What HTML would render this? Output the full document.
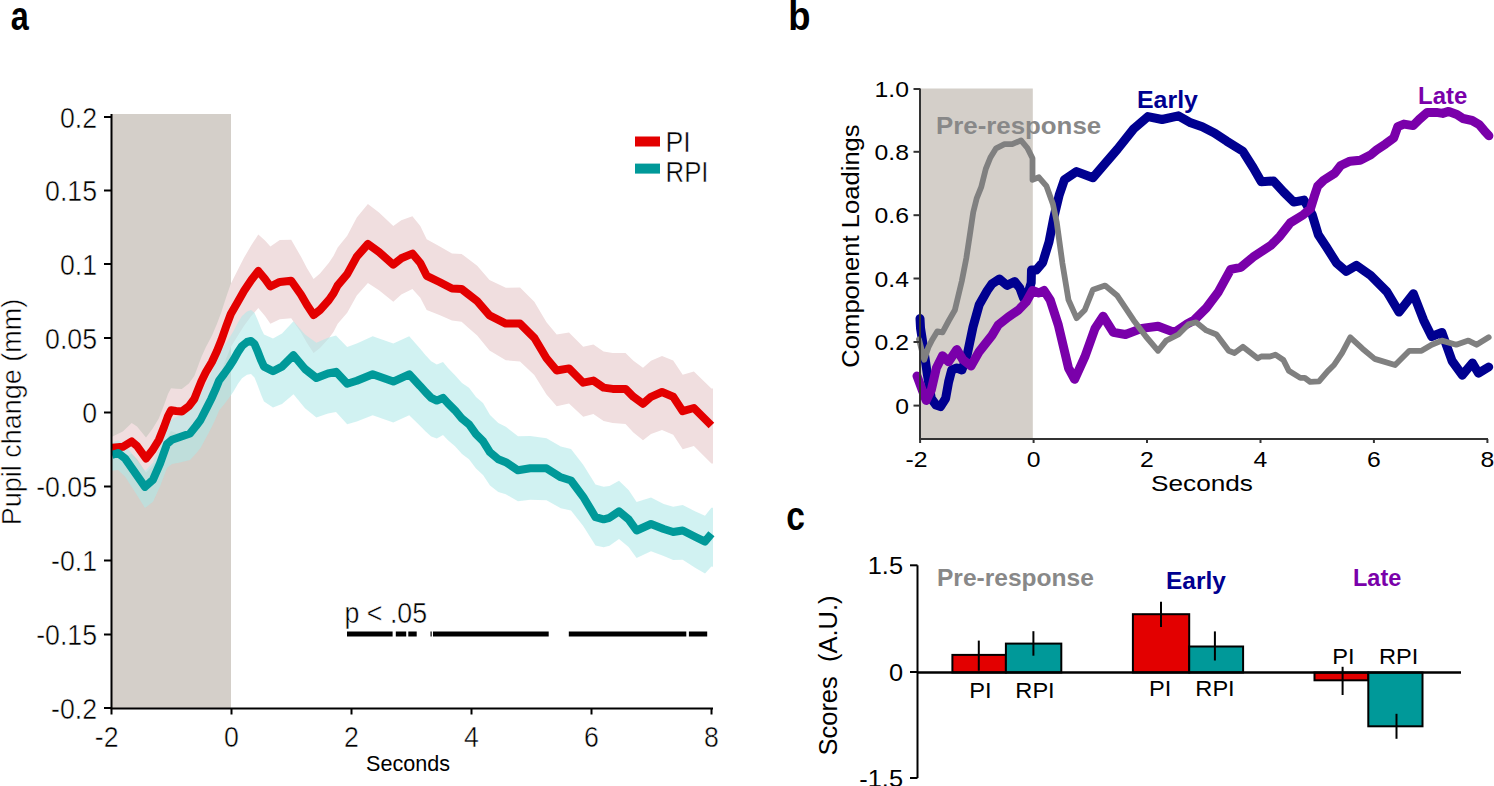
<!DOCTYPE html>
<html><head><meta charset="utf-8"><title>Figure</title>
<style>html,body{margin:0;padding:0;background:#fff;}body{width:1494px;height:786px;overflow:hidden;}svg{display:block;}text{font-family:"Liberation Sans",sans-serif;}</style></head><body>
<svg width="1494" height="786" viewBox="0 0 1494 786">
<rect x="0" y="0" width="1494" height="786" fill="#fff"/>
<text transform="translate(10.8,30) scale(0.81,1)" font-size="40" font-weight="bold" text-anchor="start" fill="#000" xml:space="preserve">a</text>
<text transform="translate(788.3,30) scale(0.9,1)" font-size="40.5" font-weight="bold" text-anchor="start" fill="#000" xml:space="preserve">b</text>
<text transform="translate(786.2,529.5) scale(0.84,1)" font-size="40" font-weight="bold" text-anchor="start" fill="#000" xml:space="preserve">c</text>
<rect x="111" y="114" width="120" height="594" fill="#d4cfc9"/>
<polygon points="111.5,436.7 112.0,436.7 122.8,431.6 131.7,423.1 137.0,426.6 146.0,437.5 152.4,429.0 158.8,418.5 164.0,405.3 168.0,394.1 171.0,388.3 176.2,388.8 181.8,389.1 188.9,383.4 194.3,376.1 197.8,366.7 201.4,357.1 205.8,347.3 211.9,335.8 217.0,323.8 221.4,311.9 226.3,296.8 230.8,283.8 237.0,271.6 244.1,257.6 251.3,245.3 258.3,234.6 265.0,240.5 270.4,246.4 279.8,239.9 291.2,239.8 300.9,256.6 307.0,268.2 313.6,278.9 320.0,273.4 328.9,262.8 333.6,255.8 337.7,247.5 347.2,235.8 356.8,217.6 367.9,204.1 379.0,212.5 393.3,226.1 401.3,220.2 412.4,216.2 420.3,226.1 426.7,239.3 439.4,246.2 452.0,253.5 461.6,253.9 468.0,258.8 477.2,265.8 489.5,279.9 505.8,287.8 520.0,287.6 534.3,301.8 546.5,322.2 556.7,334.5 569.0,332.4 583.2,346.7 593.4,344.6 603.6,351.6 612.7,352.9 625.5,352.9 633.4,360.8 643.0,367.8 651.0,360.8 662.0,356.0 673.2,360.6 682.7,374.8 693.9,371.4 703.4,380.7 711.4,388.5 713.0,388.5 713.0,463.5 711.4,463.5 703.4,455.5 693.9,446.0 682.7,449.2 673.2,434.8 662.0,430.0 651.0,433.9 643.0,440.3 633.4,432.5 625.5,424.0 612.7,422.9 603.6,420.9 593.4,414.0 583.2,416.8 569.0,403.4 556.7,406.3 546.5,394.6 534.3,375.0 520.0,361.4 505.8,360.2 489.5,350.6 477.2,335.4 468.0,327.4 461.6,321.8 452.0,320.5 439.4,315.1 426.7,310.0 420.3,297.7 412.4,289.0 401.3,294.6 393.3,301.7 379.0,290.2 367.9,283.0 356.8,295.5 347.2,312.8 337.7,323.7 333.6,331.7 328.9,338.3 320.0,348.1 313.6,353.0 307.0,342.9 300.9,332.3 291.2,318.3 279.8,319.3 270.4,323.7 265.0,316.1 258.3,308.0 251.3,316.1 244.1,325.7 237.0,337.0 230.8,346.9 226.3,358.2 221.4,371.4 217.0,381.7 211.9,391.9 205.8,401.2 201.4,409.4 197.8,417.5 194.3,425.5 188.9,431.3 181.8,434.9 176.2,432.9 171.0,430.9 168.0,435.9 164.0,445.8 158.8,457.5 152.4,466.2 146.0,472.8 137.0,459.0 131.7,453.8 122.8,458.1 112.0,457.7 111.5,457.7" fill="#f0dedf"/>
<polygon points="111.5,442.8 112.0,442.8 118.0,440.3 125.0,444.8 135.0,457.8 145.0,470.9 153.0,462.4 160.0,445.2 167.0,424.4 172.0,419.3 180.0,415.3 190.0,410.0 196.0,401.7 200.5,394.9 206.7,382.1 211.2,372.7 215.6,362.3 219.2,353.0 224.0,346.1 229.0,338.5 233.5,331.0 238.0,322.4 242.0,316.0 247.0,311.4 251.0,309.9 254.5,312.7 257.8,320.2 261.3,328.9 264.0,334.6 273.0,338.6 282.0,333.4 293.5,321.2 305.0,334.4 316.4,342.8 328.0,337.7 336.0,335.6 347.2,347.0 356.8,343.4 372.7,336.3 393.3,343.6 409.2,336.3 420.0,348.6 425.6,355.2 431.2,361.2 436.8,364.4 443.0,362.0 448.0,367.9 455.0,375.3 462.0,382.9 469.0,387.8 476.0,396.9 483.0,403.1 490.0,415.1 498.3,423.0 505.8,426.8 518.0,436.3 530.2,436.0 546.5,438.3 560.8,446.5 571.0,449.1 583.2,464.7 595.5,484.5 603.6,486.7 609.5,486.0 619.0,480.8 628.6,490.0 636.6,502.1 651.0,497.4 663.7,504.0 673.2,506.8 682.7,505.1 695.5,511.4 705.0,515.8 711.4,507.7 713.0,507.7 713.0,566.7 711.4,566.5 705.0,573.6 695.5,567.9 682.7,559.8 673.2,560.1 663.7,556.0 651.0,551.2 636.6,557.9 628.6,547.0 619.0,539.1 609.5,545.7 603.6,547.2 595.5,545.5 583.2,526.0 571.0,510.6 560.8,508.2 546.5,500.3 530.2,499.7 518.0,501.3 505.8,494.2 498.3,491.9 490.0,485.5 483.0,474.9 476.0,468.4 469.0,459.2 462.0,454.1 455.0,446.3 448.0,440.2 443.0,435.1 436.8,438.6 431.2,436.4 425.6,431.5 420.0,425.8 409.2,415.3 393.3,422.6 372.7,415.3 356.8,421.4 347.2,424.2 336.0,411.9 328.0,413.4 316.4,417.6 305.0,408.3 293.5,394.2 282.0,404.1 273.0,407.4 264.0,401.6 261.3,395.3 257.8,385.8 254.5,377.6 251.0,374.1 247.0,374.7 242.0,378.2 238.0,383.8 233.5,391.4 229.0,397.9 224.0,404.4 219.2,410.2 215.6,418.8 211.2,428.1 206.7,436.6 200.5,448.1 196.0,453.5 190.0,460.1 180.0,462.5 172.0,464.1 167.0,467.8 160.0,486.6 153.0,501.7 145.0,507.9 135.0,492.1 125.0,476.4 118.0,469.9 112.0,470.8 111.5,470.8" fill="rgb(175,232,232)" fill-opacity="0.58"/>
<polyline points="112.0,447.7 122.8,446.8 131.7,441.4 137.0,446.0 146.0,458.5 152.4,450.3 158.8,440.0 164.0,427.0 168.0,416.0 171.0,410.3 176.2,411.0 181.8,411.5 188.9,406.1 194.3,399.0 197.8,390.1 201.4,381.2 205.8,372.3 211.9,362.0 217.0,351.0 221.4,340.0 226.3,326.0 230.8,314.0 237.0,303.2 244.1,290.7 251.3,280.0 258.3,271.0 265.0,279.0 270.4,286.5 279.8,281.9 291.2,280.7 300.9,294.5 307.0,305.0 313.6,315.0 320.0,310.0 328.9,300.0 333.6,293.3 337.7,285.3 347.2,274.2 356.8,256.7 367.9,244.0 379.0,252.0 393.3,264.7 401.3,258.3 412.4,253.6 420.3,263.0 426.7,275.8 439.4,282.0 452.0,288.5 461.6,289.0 468.0,294.0 477.2,301.2 489.5,315.4 505.8,323.6 520.0,323.6 534.3,337.8 546.5,358.2 556.7,370.5 569.0,368.4 583.2,382.7 593.4,380.6 603.6,387.6 612.7,388.9 625.5,388.9 633.4,396.8 643.0,403.8 651.0,396.8 662.0,392.0 673.2,396.8 682.7,411.2 693.9,408.0 703.4,417.5 711.4,425.5" fill="none" stroke="#e30000" stroke-width="8" stroke-linejoin="round" stroke-linecap="butt"/>
<polyline points="112.0,454.8 118.0,453.0 125.0,458.4 135.0,472.6 145.0,486.9 153.0,479.7 160.0,463.7 167.0,444.0 172.0,439.7 180.0,437.0 190.0,433.4 196.0,426.0 200.5,420.0 206.7,407.9 211.2,399.0 215.6,389.2 219.2,380.3 224.0,374.0 229.0,367.0 233.5,360.0 238.0,352.0 242.0,346.0 247.0,342.0 251.0,341.0 254.5,344.0 257.8,351.7 261.3,360.7 264.0,366.6 273.0,371.2 282.0,366.6 293.5,355.2 305.0,369.0 316.4,378.0 328.0,373.5 336.0,371.8 347.2,383.8 356.8,380.7 372.7,374.3 393.3,381.6 409.2,374.3 420.0,385.9 425.6,392.2 431.2,397.8 436.8,400.6 443.0,397.8 448.0,403.4 455.0,410.3 462.0,418.7 469.0,424.3 476.0,434.1 483.0,441.1 490.0,452.3 498.3,459.3 505.8,462.2 518.0,470.3 530.2,468.3 546.5,468.3 560.8,477.3 571.0,480.5 583.2,496.8 595.5,517.2 603.6,519.3 609.5,517.8 619.0,511.4 628.6,519.4 636.6,530.5 651.0,524.0 663.7,529.0 673.2,532.0 682.7,530.5 695.5,537.0 705.0,541.6 711.4,533.7" fill="none" stroke="#009999" stroke-width="8" stroke-linejoin="round" stroke-linecap="butt"/>
<path d="M111.5 114 V708.5 H713" fill="none" stroke="#000" stroke-width="2"/>
<line x1="104" y1="117" x2="111" y2="117" stroke="#000" stroke-width="2"/>
<text transform="translate(97,127.8) scale(0.89,1)" font-size="30" text-anchor="end" fill="#000" stroke="#fff" stroke-width="0.5" xml:space="preserve">0.2</text>
<line x1="104" y1="190.5" x2="111" y2="190.5" stroke="#000" stroke-width="2"/>
<text transform="translate(97,201.3) scale(0.89,1)" font-size="30" text-anchor="end" fill="#000" stroke="#fff" stroke-width="0.5" xml:space="preserve">0.15</text>
<line x1="104" y1="264" x2="111" y2="264" stroke="#000" stroke-width="2"/>
<text transform="translate(97,274.8) scale(0.89,1)" font-size="30" text-anchor="end" fill="#000" stroke="#fff" stroke-width="0.5" xml:space="preserve">0.1</text>
<line x1="104" y1="338" x2="111" y2="338" stroke="#000" stroke-width="2"/>
<text transform="translate(97,348.8) scale(0.89,1)" font-size="30" text-anchor="end" fill="#000" stroke="#fff" stroke-width="0.5" xml:space="preserve">0.05</text>
<line x1="104" y1="412.5" x2="111" y2="412.5" stroke="#000" stroke-width="2"/>
<text transform="translate(97,423.3) scale(0.89,1)" font-size="30" text-anchor="end" fill="#000" stroke="#fff" stroke-width="0.5" xml:space="preserve">0</text>
<line x1="104" y1="486.5" x2="111" y2="486.5" stroke="#000" stroke-width="2"/>
<text transform="translate(97,497.3) scale(0.89,1)" font-size="30" text-anchor="end" fill="#000" stroke="#fff" stroke-width="0.5" xml:space="preserve">-0.05</text>
<line x1="104" y1="560.5" x2="111" y2="560.5" stroke="#000" stroke-width="2"/>
<text transform="translate(97,571.3) scale(0.89,1)" font-size="30" text-anchor="end" fill="#000" stroke="#fff" stroke-width="0.5" xml:space="preserve">-0.1</text>
<line x1="104" y1="634.5" x2="111" y2="634.5" stroke="#000" stroke-width="2"/>
<text transform="translate(97,645.3) scale(0.89,1)" font-size="30" text-anchor="end" fill="#000" stroke="#fff" stroke-width="0.5" xml:space="preserve">-0.15</text>
<line x1="104" y1="708" x2="111" y2="708" stroke="#000" stroke-width="2"/>
<text transform="translate(97,718.8) scale(0.89,1)" font-size="30" text-anchor="end" fill="#000" stroke="#fff" stroke-width="0.5" xml:space="preserve">-0.2</text>
<line x1="111.5" y1="708" x2="111.5" y2="714.5" stroke="#000" stroke-width="2"/>
<text transform="translate(118.5,746.5) scale(0.89,1)" font-size="30" text-anchor="end" fill="#000" stroke="#fff" stroke-width="0.5" xml:space="preserve">-2</text>
<line x1="231.5" y1="708" x2="231.5" y2="714.5" stroke="#000" stroke-width="2"/>
<text transform="translate(231.5,746.5) scale(0.89,1)" font-size="30" text-anchor="middle" fill="#000" stroke="#fff" stroke-width="0.5" xml:space="preserve">0</text>
<line x1="351.5" y1="708" x2="351.5" y2="714.5" stroke="#000" stroke-width="2"/>
<text transform="translate(351.5,746.5) scale(0.89,1)" font-size="30" text-anchor="middle" fill="#000" stroke="#fff" stroke-width="0.5" xml:space="preserve">2</text>
<line x1="471.5" y1="708" x2="471.5" y2="714.5" stroke="#000" stroke-width="2"/>
<text transform="translate(471.5,746.5) scale(0.89,1)" font-size="30" text-anchor="middle" fill="#000" stroke="#fff" stroke-width="0.5" xml:space="preserve">4</text>
<line x1="591.5" y1="708" x2="591.5" y2="714.5" stroke="#000" stroke-width="2"/>
<text transform="translate(591.5,746.5) scale(0.89,1)" font-size="30" text-anchor="middle" fill="#000" stroke="#fff" stroke-width="0.5" xml:space="preserve">6</text>
<line x1="711.5" y1="708" x2="711.5" y2="714.5" stroke="#000" stroke-width="2"/>
<text transform="translate(711.5,746.5) scale(0.89,1)" font-size="30" text-anchor="middle" fill="#000" stroke="#fff" stroke-width="0.5" xml:space="preserve">8</text>
<text transform="translate(366,771)" font-size="21.6" text-anchor="start" fill="#000" xml:space="preserve">Seconds</text>
<text transform="translate(20.5,412) rotate(-90)" font-size="27" text-anchor="middle" fill="#000" stroke="#fff" stroke-width="0.5" xml:space="preserve">Pupil change (mm)</text>
<rect x="635" y="136.5" width="25" height="10" fill="#e30000"/>
<rect x="635" y="163.6" width="25" height="10" fill="#009999"/>
<text transform="translate(665.5,151.8) scale(0.89,1)" font-size="30" text-anchor="start" fill="#000" stroke="#fff" stroke-width="0.5" xml:space="preserve">PI</text>
<text transform="translate(665.5,182) scale(0.86,1)" font-size="30" text-anchor="start" fill="#000" stroke="#fff" stroke-width="0.5" xml:space="preserve">RPI</text>
<text transform="translate(344.5,622.8) scale(0.893,1)" font-size="30" text-anchor="start" fill="#000" stroke="#fff" stroke-width="0.5" xml:space="preserve">p &lt; .05</text>
<rect x="347" y="631.5" width="45.6" height="5" fill="#000"/>
<rect x="395.8" y="631.5" width="10.4" height="5" fill="#000"/>
<rect x="408.3" y="631.5" width="8.4" height="5" fill="#000"/>
<rect x="433" y="631.5" width="115.7" height="5" fill="#000"/>
<rect x="568.8" y="631.5" width="117.5" height="5" fill="#000"/>
<rect x="688.9" y="631.5" width="18.3" height="5" fill="#000"/>
<rect x="430.5" y="631.5" width="1.2" height="5" fill="#000"/>
<rect x="920" y="88.5" width="112.8" height="350" fill="#d4cfc9"/>
<polyline points="920.0,318.5 920.5,328.0 923.2,345.5 927.3,374.0 931.3,398.5 936.0,405.0 940.5,406.6 945.6,398.5 948.6,382.0 951.7,370.0 956.8,368.0 961.9,370.0 967.0,355.7 973.0,327.0 979.2,304.8 987.3,290.5 991.8,284.1 999.4,279.0 1007.0,285.4 1014.7,281.6 1019.8,288.0 1023.6,298.1 1027.4,295.6 1031.2,282.8 1031.5,270.0 1036.3,270.0 1042.7,262.5 1049.0,242.0 1054.0,216.7 1059.2,195.0 1064.4,179.8 1076.6,171.6 1092.9,177.7 1105.1,163.5 1117.4,149.2 1133.6,128.9 1147.9,116.6 1162.1,119.5 1178.4,115.8 1190.7,122.8 1202.2,126.8 1214.4,132.9 1226.6,141.1 1242.9,151.3 1253.1,167.5 1261.3,181.8 1273.5,181.0 1283.6,192.0 1293.8,202.1 1304.0,200.1 1312.1,214.4 1318.3,234.7 1326.4,247.0 1336.6,263.2 1346.2,271.4 1356.4,265.3 1370.6,275.4 1386.9,291.7 1399.1,312.1 1413.4,293.8 1423.6,320.2 1431.7,336.5 1441.9,332.4 1452.1,361.0 1462.3,375.2 1472.4,363.0 1478.5,373.2 1488.7,367.0" fill="none" stroke="#000090" stroke-width="9" stroke-linejoin="round" stroke-linecap="round"/>
<polyline points="917.0,376.0 922.2,390.0 926.2,400.5 931.3,390.0 936.4,368.0 942.5,355.7 948.6,361.8 956.8,349.6 963.0,359.8 971.0,366.0 979.2,351.6 992.0,335.4 998.2,325.0 1008.3,317.0 1018.5,310.0 1026.2,302.0 1032.5,290.5 1038.9,293.0 1044.0,290.5 1050.2,300.0 1058.3,325.0 1068.5,368.0 1074.6,379.3 1084.8,356.9 1095.0,328.4 1103.1,316.2 1113.3,332.4 1125.5,334.5 1141.8,328.4 1158.1,326.3 1174.4,332.4 1186.6,324.3 1194.0,320.2 1206.3,308.0 1218.5,291.7 1230.7,269.3 1240.9,267.3 1253.1,257.1 1271.4,244.9 1280.0,236.1 1290.2,222.9 1303.4,214.7 1310.5,208.6 1314.6,195.4 1317.6,186.3 1323.7,180.2 1334.9,173.1 1340.7,165.5 1350.0,161.2 1360.2,160.2 1370.4,155.1 1376.5,150.0 1385.6,143.9 1393.8,137.8 1397.8,126.6 1403.9,124.1 1413.1,125.6 1419.2,119.5 1427.3,112.4 1436.5,112.4 1442.6,113.4 1448.7,111.4 1456.9,114.4 1463.0,118.5 1472.1,120.5 1479.2,124.6 1484.3,130.7 1488.9,135.8" fill="none" stroke="#7a00aa" stroke-width="9" stroke-linejoin="round" stroke-linecap="round"/>
<polyline points="919.0,339.4 924.2,359.8 928.3,347.5 932.4,339.4 937.4,331.3 942.5,332.3 948.6,321.0 954.9,310.0 961.8,281.1 966.3,258.2 969.8,235.3 973.2,212.4 976.6,198.7 981.2,187.2 985.8,168.9 990.4,157.5 996.1,148.3 1004.5,144.2 1012.2,144.2 1021.0,140.4 1027.4,148.0 1032.5,158.2 1032.5,179.8 1038.9,177.3 1046.5,186.2 1052.9,204.0 1056.7,222.0 1062.4,263.2 1068.5,299.9 1076.6,318.2 1084.8,310.0 1092.9,289.7 1105.1,285.6 1117.4,295.8 1133.6,320.2 1145.9,336.5 1158.1,350.8 1166.2,340.6 1178.4,334.5 1188.6,324.3 1196.1,322.3 1206.3,330.4 1216.5,334.5 1228.7,350.8 1234.5,353.0 1242.9,346.7 1257.6,358.3 1261.2,356.5 1270.0,356.5 1275.4,354.7 1283.4,360.0 1288.8,370.8 1300.3,377.9 1304.8,377.9 1310.1,381.9 1319.0,381.4 1328.0,370.8 1334.0,365.0 1342.1,352.8 1350.3,337.3 1362.5,348.7 1374.7,358.9 1395.1,365.0 1409.3,350.8 1421.5,350.8 1431.7,344.7 1441.9,340.6 1456.2,344.7 1468.4,340.6 1476.5,344.7 1488.7,337.3" fill="none" stroke="#808080" stroke-width="5.8" stroke-linejoin="round" stroke-linecap="round"/>
<path d="M920 88.5 V439 H1488" fill="none" stroke="#333" stroke-width="2"/>
<line x1="913.5" y1="89" x2="920" y2="89" stroke="#333" stroke-width="2"/>
<text transform="translate(909,97.2) scale(1.1,1)" font-size="22.5" text-anchor="end" fill="#000" xml:space="preserve">1.0</text>
<line x1="913.5" y1="151.8" x2="920" y2="151.8" stroke="#333" stroke-width="2"/>
<text transform="translate(909,160.0) scale(1.1,1)" font-size="22.5" text-anchor="end" fill="#000" xml:space="preserve">0.8</text>
<line x1="913.5" y1="215.2" x2="920" y2="215.2" stroke="#333" stroke-width="2"/>
<text transform="translate(909,223.4) scale(1.1,1)" font-size="22.5" text-anchor="end" fill="#000" xml:space="preserve">0.6</text>
<line x1="913.5" y1="278.5" x2="920" y2="278.5" stroke="#333" stroke-width="2"/>
<text transform="translate(909,286.7) scale(1.1,1)" font-size="22.5" text-anchor="end" fill="#000" xml:space="preserve">0.4</text>
<line x1="913.5" y1="342" x2="920" y2="342" stroke="#333" stroke-width="2"/>
<text transform="translate(909,350.2) scale(1.1,1)" font-size="22.5" text-anchor="end" fill="#000" xml:space="preserve">0.2</text>
<line x1="913.5" y1="405.6" x2="920" y2="405.6" stroke="#333" stroke-width="2"/>
<text transform="translate(909,413.8) scale(1.1,1)" font-size="22.5" text-anchor="end" fill="#000" xml:space="preserve">0</text>
<line x1="920.1" y1="439" x2="920.1" y2="443" stroke="#333" stroke-width="2"/>
<text transform="translate(927.6,467) scale(1.1,1)" font-size="22.5" text-anchor="end" fill="#000" xml:space="preserve">-2</text>
<line x1="1033.6" y1="439" x2="1033.6" y2="443" stroke="#333" stroke-width="2"/>
<text transform="translate(1033.6,467) scale(1.1,1)" font-size="22.5" text-anchor="middle" fill="#000" xml:space="preserve">0</text>
<line x1="1147.0" y1="439" x2="1147.0" y2="443" stroke="#333" stroke-width="2"/>
<text transform="translate(1147.0,467) scale(1.1,1)" font-size="22.5" text-anchor="middle" fill="#000" xml:space="preserve">2</text>
<line x1="1260.5" y1="439" x2="1260.5" y2="443" stroke="#333" stroke-width="2"/>
<text transform="translate(1260.5,467) scale(1.1,1)" font-size="22.5" text-anchor="middle" fill="#000" xml:space="preserve">4</text>
<line x1="1373.9" y1="439" x2="1373.9" y2="443" stroke="#333" stroke-width="2"/>
<text transform="translate(1373.9,467) scale(1.1,1)" font-size="22.5" text-anchor="middle" fill="#000" xml:space="preserve">6</text>
<line x1="1487.4" y1="439" x2="1487.4" y2="443" stroke="#333" stroke-width="2"/>
<text transform="translate(1487.4,467) scale(1.1,1)" font-size="22.5" text-anchor="middle" fill="#000" xml:space="preserve">8</text>
<text transform="translate(1151,491) scale(1.165,1)" font-size="22.5" text-anchor="start" fill="#000" xml:space="preserve">Seconds</text>
<text transform="translate(859,246) rotate(-90) scale(1.045,1)" font-size="24.5" text-anchor="middle" fill="#000" xml:space="preserve">Component Loadings</text>
<text transform="translate(936,133.6) scale(1.1,1)" font-size="23.5" font-weight="bold" text-anchor="start" fill="#888" xml:space="preserve">Pre-response</text>
<text transform="translate(1137,108) scale(1.06,1)" font-size="23.5" font-weight="bold" text-anchor="start" fill="#000090" xml:space="preserve">Early</text>
<text transform="translate(1418,103.7) scale(1.02,1)" font-size="23.5" font-weight="bold" text-anchor="start" fill="#7a00aa" xml:space="preserve">Late</text>
<text transform="translate(837,675.5) rotate(-90)" font-size="25.5" text-anchor="middle" fill="#000" xml:space="preserve">Scores  (A.U.)</text>
<text transform="translate(937,586) scale(1.045,1)" font-size="23.5" font-weight="bold" text-anchor="start" fill="#888" xml:space="preserve">Pre-response</text>
<text transform="translate(1166,588.5) scale(1.04,1)" font-size="23.5" font-weight="bold" text-anchor="start" fill="#000090" xml:space="preserve">Early</text>
<text transform="translate(1353,586.3)" font-size="23.5" font-weight="bold" text-anchor="start" fill="#7a00aa" xml:space="preserve">Late</text>
<rect x="952.4" y="654.9" width="53.5" height="17.6" fill="#e30000" stroke="#000" stroke-width="2"/>
<rect x="1005.9" y="643.6" width="55.4" height="28.9" fill="#009999" stroke="#000" stroke-width="2"/>
<rect x="1132.9" y="614.2" width="56.3" height="58.3" fill="#e30000" stroke="#000" stroke-width="2"/>
<rect x="1189.2" y="646.5" width="53.9" height="26.0" fill="#009999" stroke="#000" stroke-width="2"/>
<rect x="1314.5" y="672.5" width="53.8" height="7.8" fill="#e30000" stroke="#000" stroke-width="2"/>
<rect x="1368.3" y="672.5" width="54.2" height="53.8" fill="#009999" stroke="#000" stroke-width="2"/>
<line x1="978.8" y1="640.6" x2="978.8" y2="670.7" stroke="#000" stroke-width="2"/>
<line x1="1033.4" y1="631.2" x2="1033.4" y2="655.7" stroke="#000" stroke-width="2"/>
<line x1="1161" y1="601.7" x2="1161" y2="627" stroke="#000" stroke-width="2"/>
<line x1="1214.9" y1="631.4" x2="1214.9" y2="660.5" stroke="#000" stroke-width="2"/>
<line x1="1342.6" y1="666.8" x2="1342.6" y2="695" stroke="#000" stroke-width="2"/>
<line x1="1396.5" y1="713.8" x2="1396.5" y2="738.8" stroke="#000" stroke-width="2"/>
<line x1="917" y1="672.5" x2="1461" y2="672.5" stroke="#000" stroke-width="2.5"/>
<path d="M917.5 565.3 V778" fill="none" stroke="#000" stroke-width="2"/>
<line x1="910" y1="565.3" x2="917.5" y2="565.3" stroke="#000" stroke-width="2"/>
<text transform="translate(903,573.9) scale(1.08,1)" font-size="23.5" text-anchor="end" fill="#000" xml:space="preserve">1.5</text>
<line x1="910" y1="672" x2="917.5" y2="672" stroke="#000" stroke-width="2"/>
<text transform="translate(903,680.6) scale(1.08,1)" font-size="23.5" text-anchor="end" fill="#000" xml:space="preserve">0</text>
<line x1="910" y1="778" x2="917.5" y2="778" stroke="#000" stroke-width="2"/>
<text transform="translate(903,786.6) scale(1.08,1)" font-size="23.5" text-anchor="end" fill="#000" xml:space="preserve">-1.5</text>
<text transform="translate(980.4,697.8) scale(1.05,1)" font-size="22.5" text-anchor="middle" fill="#000" xml:space="preserve">PI</text>
<text transform="translate(1035,697.8) scale(1.05,1)" font-size="22.5" text-anchor="middle" fill="#000" xml:space="preserve">RPI</text>
<text transform="translate(1160.2,695.6) scale(1.05,1)" font-size="22.5" text-anchor="middle" fill="#000" xml:space="preserve">PI</text>
<text transform="translate(1215,695.6) scale(1.05,1)" font-size="22.5" text-anchor="middle" fill="#000" xml:space="preserve">RPI</text>
<text transform="translate(1343.4,663.7) scale(1.05,1)" font-size="22.5" text-anchor="middle" fill="#000" xml:space="preserve">PI</text>
<text transform="translate(1398.7,663.7) scale(1.05,1)" font-size="22.5" text-anchor="middle" fill="#000" xml:space="preserve">RPI</text>
</svg></body></html>
